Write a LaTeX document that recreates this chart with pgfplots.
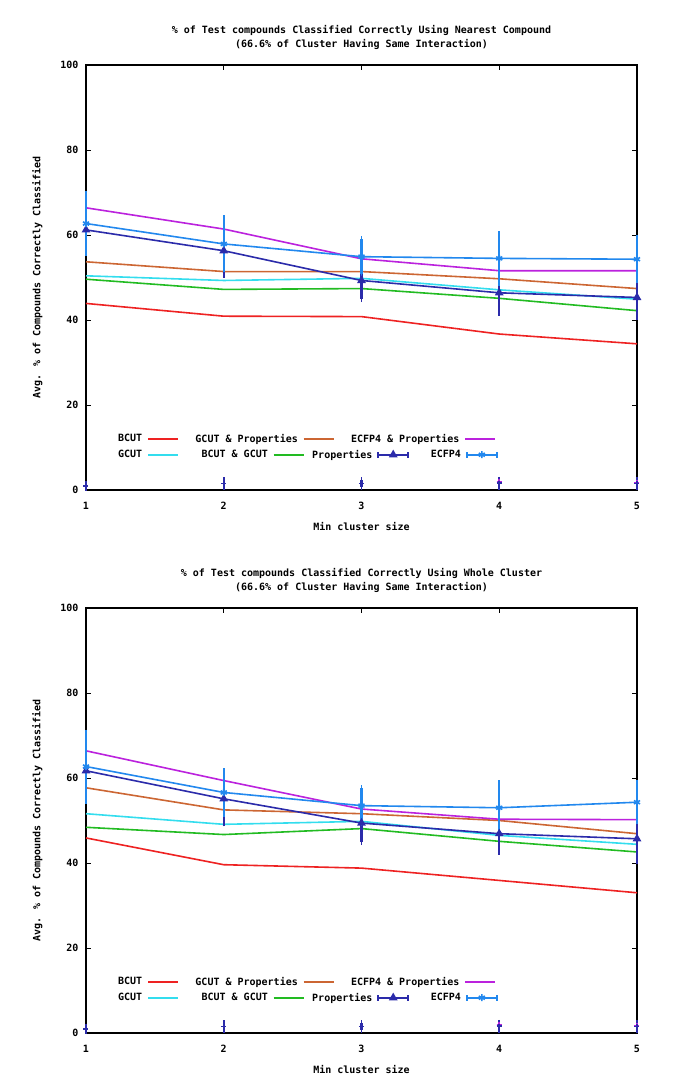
\documentclass[border=0pt]{standalone}
\usepackage{fontspec}
\setmainfont{DejaVu Sans Mono}
\usepackage{pgfplots}
\pgfplotsset{compat=1.18}
\definecolor{cBCUT}{HTML}{EE2222}
\definecolor{cGCUT}{HTML}{33DDEE}
\definecolor{cGP}{HTML}{CC6633}
\definecolor{cBG}{HTML}{22BB22}
\definecolor{cEP}{HTML}{BB22DD}
\definecolor{cProp}{HTML}{2B2BAA}
\definecolor{cECFP}{HTML}{2288EE}
\newcommand{\lt}[2]{\makebox[#1pt][r]{#2}}
\pgfplotsset{
  baseaxis/.style={
    scale only axis, width=551pt, height=425pt,
    xmin=1, xmax=5, ymin=0, ymax=100,
    clip=false,
    legend style={draw=none, fill=none, anchor=west, inner sep=0pt,
      font=\bfseries\fontsize{10}{12}\selectfont,
      nodes={inner sep=0pt},
      column sep=0pt,
      /tikz/every odd column/.style={column sep=5pt}},
    legend cell align=right,
    legend plot pos=right,
    legend image code/.code={\draw[#1, line width=1.6pt] (0pt,0pt) -- (30pt,0pt);},
  },
  myaxis/.style={baseaxis,
    xtick={1,2,3,4,5}, ytick={0,20,40,60,80,100},
    tick align=inside, major tick length=5pt,
    tick style={black, line width=1pt},
    axis line style={black, line width=1.2pt},
    /pgf/number format/assume math mode=true,
    tick label style={font=\bfseries\fontsize{10}{12}\selectfont},
    xticklabel style={yshift=-9pt},
    yticklabel style={xshift=-4pt},
    xlabel={Min cluster size},
    ylabel={Avg. \% of Compounds Correctly Classified},
    label style={font=\bfseries\fontsize{10}{12}\selectfont},
    xlabel style={yshift=-5pt},
    ylabel style={yshift=11pt},
    title style={font=\bfseries\fontsize{10}{14}\selectfont, align=center, yshift=6pt},
    legend columns=3,
    legend style={at={(0.0563,0.12)}},
  },
  legaxis/.style={baseaxis, hide axis, legend columns=4,
    legend style={at={(0.0563,0.083)}}},
  ln/.style={line width=1.6pt},
  errleg/.style={legend image code/.code={%
    \draw[##1, mark=none, line width=1.6pt] (0pt,0pt) -- (30pt,0pt) (0pt,-3pt) -- (0pt,3pt) (30pt,-3pt) -- (30pt,3pt);
    \draw[##1, line width=1.6pt] plot coordinates {(15pt,0pt)};}},
  ebar/.style={error bars/y dir=both, error bars/y explicit,
    error bars/error bar style={line width=2.2pt, draw=#1, solid},
    error bars/error mark options={line width=1.6pt, mark size=3pt, draw=#1}},
}
\newcommand{\legendrowA}{%
  \addlegendimage{cBCUT}\addlegendentry{\lt{25}{BCUT}}
  \addlegendimage{cGP}\addlegendentry{\lt{119}{GCUT \& Properties}}
  \addlegendimage{cEP}\addlegendentry{\lt{125}{ECFP4 \& Properties}}
}
\newcommand{\legendrowB}{%
  \addlegendimage{cGCUT}\addlegendentry{\lt{25}{GCUT}}
  \addlegendimage{cBG}\addlegendentry{\lt{89}{BCUT \& GCUT}}
  \addlegendimage{cProp, mark=triangle*, mark size=3.5pt, errleg}\addlegendentry{\lt{68}{Properties}}
  \addlegendimage{cECFP, mark=asterisk, mark size=3.5pt, errleg}\addlegendentry{\lt{52}{ECFP4}}
}
\begin{document}
\begin{tikzpicture}
\useasboundingbox (0pt,0pt) rectangle (685pt,-1088pt);
% ---------------- top ----------------
\begin{axis}[myaxis, at={(86pt,-490pt)}, anchor=south west,
  title={\% of Test compounds Classified Correctly Using Nearest Compound\\(66.6\% of Cluster Having Same Interaction)}]
\addplot[cBCUT, ln, forget plot] coordinates {(1,43.9) (2,40.9) (3,40.8) (4,36.7) (5,34.4)};
\addplot[cGCUT, ln, forget plot] coordinates {(1,50.4) (2,49.3) (3,49.8) (4,47.1) (5,44.9)};
\addplot[cGP, ln, forget plot] coordinates {(1,53.7) (2,51.4) (3,51.4) (4,49.7) (5,47.4)};
\addplot[cBG, ln, forget plot] coordinates {(1,49.6) (2,47.2) (3,47.4) (4,45.1) (5,42.2)};
\addplot[cEP, ln, forget plot] coordinates {(1,66.4) (2,61.4) (3,54.4) (4,51.6) (5,51.6)};
\addplot[cProp, ln, mark=triangle*, mark size=3.5pt, forget plot, ebar=cProp] coordinates {
  (1,61.2) +- (0,4.5) (2,56.3) +- (0,5.6) (3,49.3) +- (0,4.4) (4,46.4) +- (0,4.7) (5,45.3) +- (0,4.5)};
\addplot[cECFP, ln, mark=asterisk, mark size=3.5pt, forget plot, ebar=cECFP] coordinates {
  (1,62.7) +- (0,6.9) (2,57.9) +- (0,6.0) (3,54.9) +- (0,4.1) (4,54.5) +- (0,5.7) (5,54.3) +- (0,4.9)};
\addplot[cEP, ln, only marks, mark=+, mark size=2.5pt, forget plot] coordinates {(4,2.0) (5,1.8)};
\addplot[cProp, ln, only marks, mark=+, mark size=2.5pt, forget plot, ebar=cProp] coordinates {
  (1,1.0) +- (0,0.5) (2,1.5) +- (0,0.8) (3,1.5) +- (0,0.8) (4,1.6) +- (0,0.8) (5,1.5) +- (0,0.8)};
\legendrowA
\end{axis}
\begin{axis}[legaxis, at={(86pt,-490pt)}, anchor=south west]
\legendrowB
\end{axis}
% ---------------- bottom ----------------
\begin{axis}[myaxis, at={(86pt,-1033pt)}, anchor=south west,
  title={\% of Test compounds Classified Correctly Using Whole Cluster\\(66.6\% of Cluster Having Same Interaction)}]
\addplot[cBCUT, ln, forget plot] coordinates {(1,45.9) (2,39.6) (3,38.8) (4,35.9) (5,33.0)};
\addplot[cGCUT, ln, forget plot] coordinates {(1,51.6) (2,49.1) (3,49.8) (4,46.5) (5,44.4)};
\addplot[cGP, ln, forget plot] coordinates {(1,57.7) (2,52.5) (3,51.6) (4,50.0) (5,46.9)};
\addplot[cBG, ln, forget plot] coordinates {(1,48.4) (2,46.7) (3,48.1) (4,45.1) (5,42.6)};
\addplot[cEP, ln, forget plot] coordinates {(1,66.4) (2,59.4) (3,52.7) (4,50.3) (5,50.2)};
\addplot[cProp, ln, mark=triangle*, mark size=3.5pt, forget plot, ebar=cProp] coordinates {
  (1,61.7) +- (0,4.5) (2,55.1) +- (0,5.8) (3,49.4) +- (0,4.5) (4,46.9) +- (0,4.2) (5,45.7) +- (0,5.3)};
\addplot[cECFP, ln, mark=asterisk, mark size=3.5pt, forget plot, ebar=cECFP] coordinates {
  (1,62.7) +- (0,8.0) (2,56.6) +- (0,5.0) (3,53.5) +- (0,4.1) (4,53.0) +- (0,5.8) (5,54.3) +- (0,4.5)};
\addplot[cEP, ln, only marks, mark=+, mark size=2.5pt, forget plot] coordinates {(4,2.0) (5,1.8)};
\addplot[cProp, ln, only marks, mark=+, mark size=2.5pt, forget plot, ebar=cProp] coordinates {
  (1,1.0) +- (0,0.5) (2,1.5) +- (0,0.8) (3,1.5) +- (0,0.8) (4,1.6) +- (0,0.8) (5,1.5) +- (0,0.8)};
\legendrowA
\end{axis}
\begin{axis}[legaxis, at={(86pt,-1033pt)}, anchor=south west]
\legendrowB
\end{axis}
\end{tikzpicture}
\end{document}
